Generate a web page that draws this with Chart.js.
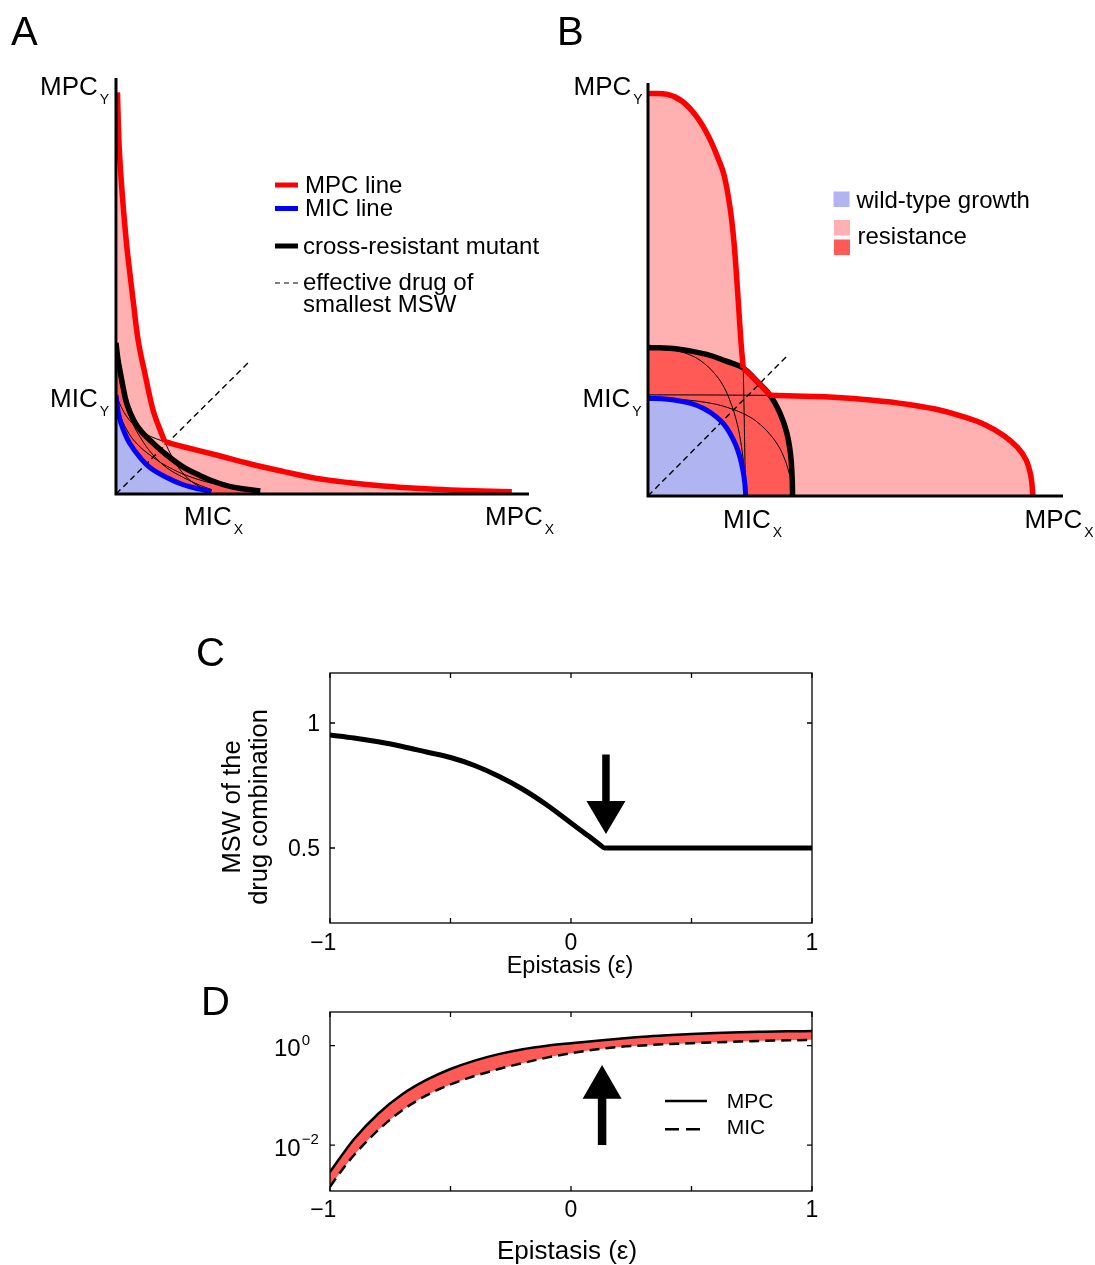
<!DOCTYPE html>
<html>
<head>
<meta charset="utf-8">
<title>MSW of drug combinations</title>
<script src="https://cdn.jsdelivr.net/npm/chart.js@4.4.1/dist/chart.umd.min.js"></script>
<style>
  html, body { margin: 0; padding: 0; background: #fff; }
  #fig { position: relative; width: 1095px; height: 1265px; overflow: hidden; background: #fff; }
  #fig canvas { position: absolute; }
</style>
</head>
<body>
<div id="fig">
  <canvas id="chartA" width="557" height="560" style="left:0;top:0;width:557px;height:560px"></canvas>
  <canvas id="chartB" width="538" height="560" style="left:557px;top:0;width:538px;height:560px"></canvas>
  <canvas id="chartC" width="750" height="380" style="left:150px;top:600px;width:750px;height:380px"></canvas>
  <canvas id="chartD" width="750" height="285" style="left:150px;top:980px;width:750px;height:285px"></canvas>
</div>
<script>
// ---------- data (drug concentrations in units of the wild-type MIC) ----------

// Panel A
const aMicX = [0, 0.01, 0.024, 0.05, 0.075, 0.14, 0.25, 0.35, 0.52, 0.69, 0.86, 0.98];
const aMicY = [1.015, 0.93, 0.83, 0.73, 0.66, 0.52, 0.37, 0.27, 0.17, 0.095, 0.05, 0.024];
const aCrossX = [0, 0.02, 0.04, 0.07, 0.11, 0.18, 0.26, 0.35, 0.52, 0.70, 0.86, 1.0, 1.2, 1.48];
const aCrossY = [1.55, 1.38, 1.27, 1.11, 0.93, 0.76, 0.64, 0.55, 0.40, 0.27, 0.19, 0.13, 0.07, 0.03];
const aMpcUpX = [0.015, 0.03, 0.05, 0.08, 0.11, 0.144, 0.18, 0.23, 0.30, 0.38, 0.44, 0.5];
const aMpcUpY = [4.12, 3.62, 3.27, 2.88, 2.55, 2.25, 1.95, 1.56, 1.22, 0.86, 0.69, 0.536];
const aMpcLowX = [0.5, 0.69, 1.03, 1.37, 1.72, 2.06, 2.4, 2.74, 3.08, 3.43, 4.06];
const aMpcLowY = [0.536, 0.485, 0.40, 0.31, 0.23, 0.16, 0.116, 0.082, 0.058, 0.041, 0.024];
const aThin1X = [0.5, 0.55, 0.61, 0.68, 0.76, 0.85, 0.95];
const aThin1Y = [0.536, 0.43, 0.32, 0.22, 0.14, 0.08, 0.04];
const aThin2X = [0.02, 0.05, 0.1, 0.18, 0.28, 0.38, 0.5];
const aThin2Y = [0.97, 0.9, 0.81, 0.71, 0.63, 0.58, 0.536];
const aThin3X = [0, 0.024, 0.075, 0.14, 0.25, 0.38, 0.52, 0.69, 0.86, 0.98];
const aThin3Y = [1.54, 1.26, 1.0, 0.79, 0.58, 0.4, 0.27, 0.17, 0.09, 0.045];
const aThin4X = [0, 0.036, 0.11, 0.21, 0.375, 0.57, 0.78, 1.03, 1.29, 1.47];
const aThin4Y = [1.015, 0.83, 0.66, 0.52, 0.38, 0.26, 0.17, 0.1, 0.055, 0.03];
const aDiagX = [0, 1.38];
const aDiagY = [0, 1.37];

// Panel B
const bMicX = [0, 0.2, 0.43, 0.58, 0.70, 0.78, 0.84, 0.90, 0.94, 0.97, 0.99, 1.0];
const bMicY = [1.0, 0.99, 0.95, 0.89, 0.81, 0.73, 0.64, 0.52, 0.40, 0.27, 0.14, 0];
const bCrossX = [0, 0.3, 0.6, 0.8, 0.975, 1.1, 1.25, 1.35, 1.42, 1.46, 1.475, 1.48];
const bCrossY = [1.52, 1.505, 1.45, 1.38, 1.31, 1.19, 1.03, 0.85, 0.65, 0.42, 0.2, 0];
const bMpcUpX = [0, 0.2, 0.35, 0.5, 0.62, 0.72, 0.78, 0.84, 0.88, 0.91, 0.93, 0.95, 0.965, 0.975];
const bMpcUpY = [4.12, 4.11, 4.04, 3.88, 3.68, 3.45, 3.28, 2.95, 2.6, 2.2, 1.9, 1.6, 1.42, 1.31];
const bMpcMidX = [0.975, 1.1, 1.25];
const bMpcMidY = [1.31, 1.19, 1.03];
const bMpcLowX = [1.25, 1.6, 1.9, 2.3, 2.65, 2.94, 3.2, 3.45, 3.64, 3.78, 3.87, 3.92, 3.94];
const bMpcLowY = [1.03, 1.02, 1.01, 0.98, 0.94, 0.89, 0.82, 0.73, 0.62, 0.5, 0.37, 0.2, 0];
const bThin1X = [0.975, 0.983, 0.99, 0.995, 0.998];
const bThin1Y = [1.31, 0.9, 0.5, 0.2, 0];
const bThin2X = [0, 0.6, 1.25];
const bThin2Y = [1.035, 1.034, 1.03];
const bThin3X = [0, 0.2, 0.43, 0.58, 0.70, 0.78, 0.84, 0.90, 0.94, 0.97, 0.99, 1.0];
const bThin3Y = [1.52, 1.505, 1.444, 1.353, 1.231, 1.11, 0.973, 0.79, 0.608, 0.41, 0.213, 0];
const bThin4X = [0, 0.3, 0.64, 0.86, 1.04, 1.15, 1.24, 1.33, 1.39, 1.435, 1.465, 1.48];
const bThin4Y = [1.0, 0.99, 0.95, 0.89, 0.81, 0.73, 0.64, 0.52, 0.40, 0.27, 0.14, 0];
const bDiagX = [0, 1.43];
const bDiagY = [0, 1.44];

// Panel C
const cEps = [-1, -0.9, -0.8, -0.7, -0.6, -0.5, -0.4, -0.3, -0.2, -0.1, 0, 0.07, 0.12, 0.14, 0.3, 0.5, 0.7, 1];
const cMsw = [0.952, 0.94, 0.925, 0.906, 0.884, 0.862, 0.83, 0.787, 0.735, 0.672, 0.6, 0.55, 0.513, 0.5, 0.5, 0.5, 0.5, 0.5];
const cTicksX = [-1, -0.5, 0, 0.5, 1];
const cLabelsX = ['\u22121', '', '0', '', '1'];
const cTicksY = [0.5, 1];
const cLabelsY = ['0.5', '1'];
const cArrow = { x: 0.145, from: 0.874, neck: 0.688, tip: 0.556 };

// Panel D
const dEps = [-1, -0.95, -0.9, -0.8, -0.7, -0.6, -0.5, -0.4, -0.3, -0.2, -0.1, 0, 0.13, 0.2, 0.3, 0.4, 0.5, 0.6, 0.7, 0.8, 0.9, 1];
const dMpc = [0.00288, 0.00631, 0.0132, 0.0427, 0.105, 0.204, 0.339, 0.501, 0.676, 0.851, 1.0, 1.122, 1.288, 1.380, 1.514, 1.622, 1.718, 1.799, 1.862, 1.905, 1.941, 1.972];
const dMic = [0.00145, 0.00316, 0.00631, 0.0200, 0.0501, 0.100, 0.166, 0.245, 0.339, 0.447, 0.575, 0.708, 0.871, 0.944, 1.012, 1.072, 1.122, 1.169, 1.211, 1.250, 1.282, 1.309];
const dTicksX = [-1, -0.5, 0, 0.5, 1];
const dLabelsX = ['\u22121', '', '0', '', '1'];
const dTicksY = [0.01, 1];
const dExpY = ['\u22122', '0'];
const dArrow = { x: 0.129, from: 0.01, neck: 0.085, tip: 0.409 };

// ---------- styling helpers ----------
const FONT = '"Liberation Sans", Arial, Helvetica, sans-serif';
const RED = '#ff0000', BLUE = '#0000ff', PINK = '#ffb0b0', DARK = '#ff5a55', LBLUE = '#b0b4f0';

function xy(xs, ys) {
  return xs.map((x, i) => ({ x: x, y: ys[i] }));
}

// smooth: true -> bezier (iso-lines in A/B), false -> monotone (epistasis plots)
function curveSet(xs, ys, color, width, order, dash, smooth) {
  return {
    data: xy(xs, ys), fill: false, borderColor: color, borderWidth: width,
    borderDash: dash || [], borderCapStyle: 'butt', borderJoinStyle: 'round',
    pointRadius: 0, order: order,
    tension: smooth ? 0.4 : 0,
    cubicInterpolationMode: smooth ? 'default' : 'monotone'
  };
}

function areaSet(xs, ys, color, order) {
  return {
    data: xy(xs, ys), fill: 'origin', backgroundColor: color, borderWidth: 0,
    pointRadius: 0, order: order, tension: 0.4
  };
}

function baseOptions(pad, x, y) {
  return {
    responsive: false,
    animation: false,
    events: [],
    layout: { padding: pad },
    plugins: { legend: { display: false }, tooltip: { enabled: false } },
    scales: { x: Object.assign({ display: false }, x), y: Object.assign({ display: false }, y) }
  };
}

function text(ctx, s, x, y, size, align) {
  ctx.font = size + 'px ' + FONT;
  ctx.textAlign = align || 'left';
  ctx.textBaseline = 'alphabetic';
  ctx.fillStyle = '#000';
  ctx.fillText(s, x, y);
  return ctx.measureText(s).width;
}

function subText(ctx, main, sub, x, y) {
  const w = text(ctx, main, x, y, 26);
  text(ctx, sub, x + w + 2, y + 9, 14);
}

function hLine(ctx, x1, x2, y, width, color, dash) {
  ctx.save();
  ctx.strokeStyle = color;
  ctx.lineWidth = width;
  ctx.setLineDash(dash || []);
  ctx.beginPath();
  ctx.moveTo(x1, y);
  ctx.lineTo(x2, y);
  ctx.stroke();
  ctx.restore();
}

function drawAxesL(chart) {
  const { ctx, chartArea: a } = chart;
  ctx.save();
  ctx.strokeStyle = '#000';
  ctx.lineWidth = 3;
  ctx.lineJoin = 'miter';
  ctx.beginPath();
  ctx.moveTo(a.left, a.top);
  ctx.lineTo(a.left, a.bottom);
  ctx.lineTo(a.right, a.bottom);
  ctx.stroke();
  ctx.restore();
}

function drawBox(chart, ticksX, ticksY) {
  const { ctx, chartArea: a, scales: { x, y } } = chart;
  ctx.save();
  ctx.strokeStyle = '#000';
  ctx.lineWidth = 1.3;
  ctx.strokeRect(a.left, a.top, a.right - a.left, a.bottom - a.top);
  ctx.beginPath();
  ticksX.forEach(v => {
    const px = x.getPixelForValue(v);
    ctx.moveTo(px, a.bottom); ctx.lineTo(px, a.bottom - 5);
    ctx.moveTo(px, a.top); ctx.lineTo(px, a.top + 5);
  });
  ticksY.forEach(v => {
    const py = y.getPixelForValue(v);
    ctx.moveTo(a.left, py); ctx.lineTo(a.left + 5, py);
    ctx.moveTo(a.right, py); ctx.lineTo(a.right - 5, py);
  });
  ctx.stroke();
  ctx.restore();
}

function xTickLabels(chart, ticks, labels, baseline, size) {
  const { ctx, scales: { x } } = chart;
  ctx.font = size + 'px ' + FONT;
  ctx.textAlign = 'left';
  ctx.fillStyle = '#000';
  ticks.forEach((v, i) => {
    const s = labels[i];
    if (!s) return;
    const px = x.getPixelForValue(v);
    if (s.charAt(0) === '\u2212') {
      const wm = ctx.measureText('\u2212').width;
      const wd = ctx.measureText(s.slice(1)).width;
      ctx.fillText(s, px - wd / 2 - wm, baseline);
    } else {
      ctx.fillText(s, px - ctx.measureText(s).width / 2, baseline);
    }
  });
}

function arrow(chart, a, shaftW, headW) {
  const { ctx, scales: { x, y } } = chart;
  const px = x.getPixelForValue(a.x);
  const p0 = y.getPixelForValue(a.from), pn = y.getPixelForValue(a.neck), pt = y.getPixelForValue(a.tip);
  ctx.save();
  ctx.fillStyle = '#000';
  ctx.beginPath();
  ctx.moveTo(px - shaftW / 2, p0);
  ctx.lineTo(px + shaftW / 2, p0);
  ctx.lineTo(px + shaftW / 2, pn);
  ctx.lineTo(px + headW / 2, pn);
  ctx.lineTo(px, pt);
  ctx.lineTo(px - headW / 2, pn);
  ctx.lineTo(px - shaftW / 2, pn);
  ctx.closePath();
  ctx.fill();
  ctx.restore();
}

// ---------- Panel A ----------
new Chart(document.getElementById('chartA'), {
  type: 'line',
  data: {
    datasets: [
      curveSet(aMpcUpX, aMpcUpY, RED, 5.5, 1, null, true),
      curveSet(aMpcLowX, aMpcLowY, RED, 5.5, 1, null, true),
      curveSet(aCrossX, aCrossY, '#000', 5.5, 2, null, true),
      curveSet(aMicX, aMicY, BLUE, 5, 3, null, true),
      curveSet(aDiagX, aDiagY, '#000', 1.4, 4, [6, 4], true),
      curveSet(aThin1X, aThin1Y, '#000', 1, 5, null, true),
      curveSet(aThin2X, aThin2Y, '#000', 1, 5, null, true),
      curveSet(aThin3X, aThin3Y, '#000', 1, 5, null, true),
      curveSet(aThin4X, aThin4Y, '#000', 1, 5, null, true),
      areaSet(aMicX, aMicY, LBLUE, 8),
      areaSet(aCrossX, aCrossY, DARK, 9),
      areaSet(aMpcUpX.concat(aMpcLowX.slice(1)), aMpcUpY.concat(aMpcLowY.slice(1)), PINK, 10)
    ]
  },
  options: baseOptions({ left: 116, top: 78, right: 28, bottom: 66 },
    { type: 'linear', min: 0, max: 4.236 }, { type: 'linear', min: 0, max: 4.267 }),
  plugins: [{
    id: 'decorA',
    afterDatasetsDraw(chart) {
      const ctx = chart.ctx;
      drawAxesL(chart);
      text(ctx, 'A', 11, 45, 40);
      subText(ctx, 'MPC', 'Y', 40, 95);
      subText(ctx, 'MIC', 'Y', 50, 407);
      subText(ctx, 'MIC', 'X', 184, 525);
      subText(ctx, 'MPC', 'X', 485, 525);
      // legend
      hLine(ctx, 275, 298, 185, 5, RED);
      text(ctx, 'MPC line', 305, 192.5, 24);
      hLine(ctx, 275, 298, 208.5, 5, BLUE);
      text(ctx, 'MIC line', 305, 215.5, 24);
      hLine(ctx, 275, 298, 246, 5, '#000');
      text(ctx, 'cross-resistant mutant', 303, 253.5, 24);
      hLine(ctx, 275, 298, 283, 1.2, '#000', [5, 4]);
      text(ctx, 'effective drug of', 303, 289.5, 24);
      text(ctx, 'smallest MSW', 303, 312, 24);
    }
  }]
});

// ---------- Panel B ----------
new Chart(document.getElementById('chartB'), {
  type: 'line',
  data: {
    datasets: [
      curveSet(bMpcUpX, bMpcUpY, RED, 5.5, 1, null, true),
      curveSet(bMpcMidX, bMpcMidY, RED, 5.5, 1, null, true),
      curveSet(bMpcLowX, bMpcLowY, RED, 5.5, 1, null, true),
      curveSet(bCrossX, bCrossY, '#000', 5.5, 2, null, true),
      curveSet(bMicX, bMicY, BLUE, 5, 3, null, true),
      curveSet(bDiagX, bDiagY, '#000', 1.4, 4, [6, 4], true),
      curveSet(bThin1X, bThin1Y, '#000', 1, 5, null, true),
      curveSet(bThin2X, bThin2Y, '#000', 1, 5, null, true),
      curveSet(bThin3X, bThin3Y, '#000', 1, 5, null, true),
      curveSet(bThin4X, bThin4Y, '#000', 1, 5, null, true),
      areaSet(bMicX, bMicY, LBLUE, 8),
      areaSet(bCrossX, bCrossY, DARK, 9),
      areaSet(bMpcUpX.concat(bMpcMidX.slice(1), bMpcLowX.slice(1)),
              bMpcUpY.concat(bMpcMidY.slice(1), bMpcLowY.slice(1)), PINK, 10)
    ]
  },
  options: baseOptions({ left: 91, top: 83, right: 32, bottom: 64 },
    { type: 'linear', min: 0, max: 4.248 }, { type: 'linear', min: 0, max: 4.227 }),
  plugins: [{
    id: 'decorB',
    afterDatasetsDraw(chart) {
      const ctx = chart.ctx;
      drawAxesL(chart);
      text(ctx, 'B', 0, 45, 40);
      subText(ctx, 'MPC', 'Y', 16.5, 95);
      subText(ctx, 'MIC', 'Y', 25.5, 406.5);
      subText(ctx, 'MIC', 'X', 166, 528);
      subText(ctx, 'MPC', 'X', 467.5, 528);
      // legend
      ctx.fillStyle = LBLUE;
      ctx.fillRect(276.5, 191.5, 16, 15.5);
      text(ctx, 'wild-type growth', 299.5, 207.5, 24);
      ctx.fillStyle = PINK;
      ctx.fillRect(277, 220, 16, 15.5);
      ctx.fillStyle = DARK;
      ctx.fillRect(277, 239.5, 16, 15.5);
      text(ctx, 'resistance', 300.5, 244, 24);
    }
  }]
});

// ---------- Panel C ----------
new Chart(document.getElementById('chartC'), {
  type: 'line',
  data: { datasets: [curveSet(cEps, cMsw, '#000', 5, 1)] },
  options: baseOptions({ left: 180, top: 73, right: 88, bottom: 57 },
    { type: 'linear', min: -1, max: 1 }, { type: 'linear', min: 0.2, max: 1.2 }),
  plugins: [{
    id: 'decorC',
    afterDatasetsDraw(chart) {
      const ctx = chart.ctx;
      const y = chart.scales.y;
      drawBox(chart, cTicksX, cTicksY);
      arrow(chart, cArrow, 7.5, 39);
      text(ctx, 'C', 46, 66, 40);
      cTicksY.forEach((v, i) => text(ctx, cLabelsY[i], 170, y.getPixelForValue(v) + 8.4, 23, 'right'));
      xTickLabels(chart, cTicksX, cLabelsX, 350, 23);
      text(ctx, 'Epistasis (\u03b5)', 420, 372.5, 23.5, 'center');
      ctx.save();
      ctx.translate(90, 207);
      ctx.rotate(-Math.PI / 2);
      text(ctx, 'MSW of the', 0, 0, 25.5, 'center');
      ctx.restore();
      ctx.save();
      ctx.translate(117, 207);
      ctx.rotate(-Math.PI / 2);
      text(ctx, 'drug combination', 0, 0, 25.5, 'center');
      ctx.restore();
    }
  }]
});

// ---------- Panel D ----------
new Chart(document.getElementById('chartD'), {
  type: 'line',
  data: {
    datasets: [
      curveSet(dEps, dMpc, '#000', 2.5, 1),
      curveSet(dEps, dMic, '#000', 2.5, 2, [10, 6]),
      { data: xy(dEps, dMpc), fill: '+1', backgroundColor: DARK, borderWidth: 0, pointRadius: 0, order: 10, cubicInterpolationMode: 'monotone' },
      { data: xy(dEps, dMic), fill: false, borderWidth: 0, pointRadius: 0, order: 11, cubicInterpolationMode: 'monotone' }
    ]
  },
  options: baseOptions({ left: 180, top: 32, right: 88, bottom: 74 },
    { type: 'linear', min: -1, max: 1 }, { type: 'logarithmic', min: 0.00119, max: 4.76 }),
  plugins: [{
    id: 'decorD',
    afterDatasetsDraw(chart) {
      const ctx = chart.ctx;
      const y = chart.scales.y;
      drawBox(chart, dTicksX, dTicksY);
      arrow(chart, dArrow, 8.5, 39);
      text(ctx, 'D', 51, 35, 40);
      dTicksY.forEach((v, i) => {
        const py = y.getPixelForValue(v);
        const w = text(ctx, '10', 124, py + 10.8, 24);
        text(ctx, dExpY[i], 124 + w + 1, py - 1, 15);
      });
      xTickLabels(chart, dTicksX, dLabelsX, 237.3, 23);
      text(ctx, 'Epistasis (\u03b5)', 417, 278.5, 26, 'center');
      // legend
      hLine(ctx, 515, 557, 121, 2.5, '#000');
      hLine(ctx, 515, 557, 149.3, 2.5, '#000', [14, 7]);
      text(ctx, 'MPC', 576.7, 127.8, 21);
      text(ctx, 'MIC', 576.7, 153.5, 21);
    }
  }]
});
</script>
</body>
</html>
